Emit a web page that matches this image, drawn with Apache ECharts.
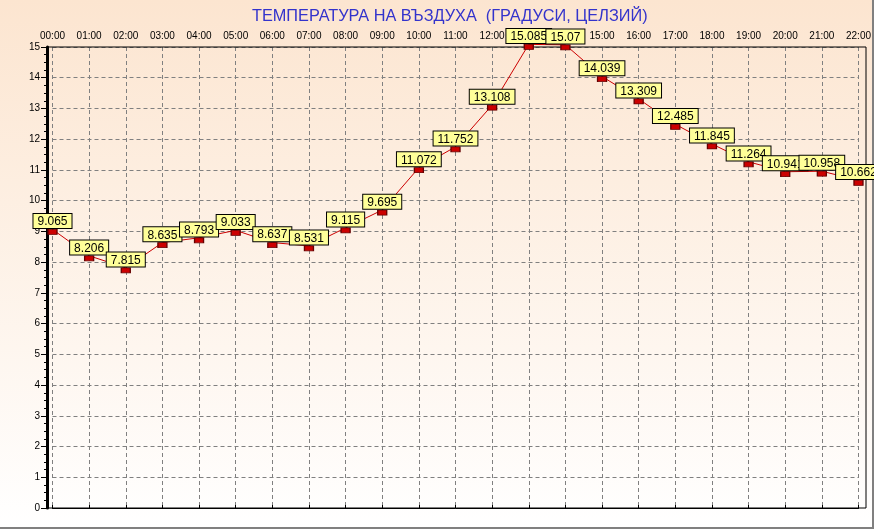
<!DOCTYPE html>
<html>
<head>
<meta charset="utf-8">
<script src="https://cdn.jsdelivr.net/npm/echarts@6/dist/echarts.min.js"></script>
<style>
html,body{margin:0;padding:0;background:#fff;}
#chart{width:874px;height:529px;}
</style>
</head>
<body>
<div id="chart"></div>
<script>
var titleText = 'ТЕМПЕРАТУРА НА ВЪЗДУХА  (ГРАДУСИ, ЦЕЛЗИЙ)';
var hours = ['00:00','01:00','02:00','03:00','04:00','05:00','06:00','07:00','08:00','09:00','10:00','11:00',
             '12:00','13:00','14:00','15:00','16:00','17:00','18:00','19:00','20:00','21:00','22:00'];
var temperature = [9.065, 8.206, 7.815, 8.635, 8.793, 9.033, 8.637, 8.531, 9.115, 9.695, 11.072, 11.752,
                   13.108, 15.085, 15.07, 14.039, 13.309, 12.485, 11.845, 11.264, 10.941, 10.958, 10.662];
var yMin = 0, yMax = 15, yStep = 1;

var chart = echarts.init(document.getElementById('chart'));
var font = 'Arial, "Liberation Sans", sans-serif';
chart.setOption({
  animation: false,
  backgroundColor: {
    type: 'linear', x: 0, y: 0, x2: 0, y2: 1,
    colorStops: [{offset: 0, color: '#FCE5D0'}, {offset: 1, color: '#FFFFFF'}]
  },
  title: {
    text: titleText, left: 247, top: 4,
    textStyle: {color: '#3333CC', fontSize: 16.3, fontWeight: 'normal', fontFamily: font}
  },
  graphic: [
    {type: 'line', shape: {x1: 0, y1: 528, x2: 874, y2: 528}, style: {stroke: '#808080', lineWidth: 2}},
    {type: 'line', shape: {x1: 873, y1: 0, x2: 873, y2: 529}, style: {stroke: '#808080', lineWidth: 2}}
  ],
  grid: [
    {left: 52.5, right: 14, top: 47, bottom: 21, containLabel: false},
    {left: 47, right: 8, top: 47, bottom: 21, show: true, borderColor: '#000', borderWidth: 1,
     backgroundColor: 'transparent', z: 3}
  ],
  xAxis: [{
    type: 'category', data: hours, position: 'top', boundaryGap: false, gridIndex: 0,
    axisLine: {show: true, lineStyle: {color: '#000', width: 1}},
    axisTick: {show: true, length: 3, inside: false, lineStyle: {color: '#000'}},
    axisLabel: {color: '#000', fontSize: 10, fontFamily: font, margin: 6, interval: 0},
    splitLine: {show: true, lineStyle: {color: '#808080', type: [4, 3], width: 1}}
  }, {
    type: 'value', gridIndex: 1, show: false
  }],
  yAxis: [{
    type: 'value', min: yMin, max: yMax, interval: yStep, gridIndex: 0, offset: 5.5,
    axisLine: {show: true, lineStyle: {color: '#000', width: 3}},
    axisTick: {show: true, length: 6, lineStyle: {color: '#000'}},
    minorTick: {show: true, splitNumber: 4, length: 3, lineStyle: {color: '#000'}},
    axisLabel: {color: '#000', fontSize: 10, fontFamily: font, margin: 7},
    splitLine: {show: true, lineStyle: {color: '#808080', type: [4, 3], width: 1}}
  }, {
    type: 'value', gridIndex: 1, show: false
  }],
  series: [{
    type: 'line', xAxisIndex: 0, yAxisIndex: 0,
    data: temperature, clip: false,
    symbol: 'rect', symbolSize: [9, 5], symbolOffset: [0, 2.5], showAllSymbol: true,
    itemStyle: {color: '#CC0000', borderColor: '#660000', borderWidth: 1},
    lineStyle: {color: '#CC0000', width: 1},
    z: 5,
    label: {
      show: true, position: 'top', distance: 1,
      backgroundColor: '#FFFF99', borderColor: '#000', borderWidth: 1,
      padding: [2, 4, 0, 4], color: '#000', fontSize: 12, fontFamily: font,
      formatter: function (p) { return String(p.value); }
    }
  }]
});
</script>
</body>
</html>
